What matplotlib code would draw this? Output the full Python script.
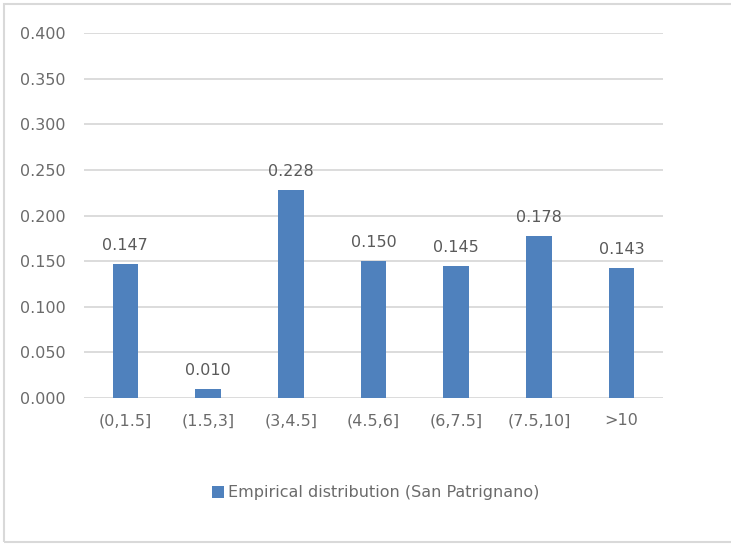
import matplotlib.pyplot as plt
from matplotlib.patches import Rectangle

# interval classes and empirical frequencies
categories = ['(0,1.5]', '(1.5,3]', '(3,4.5]', '(4.5,6]', '(6,7.5]', '(7.5,10]', '>10']
freq = [0.147, 0.010, 0.228, 0.150, 0.145, 0.178, 0.143]
yticks = [0.0, 0.05, 0.10, 0.15, 0.20, 0.25, 0.30, 0.35, 0.40]

plt.rcParams['font.family'] = ['DejaVu Sans']

fig = plt.figure(figsize=(7.31, 5.44), dpi=100)
ax = fig.add_axes([84 / 731, 1 - 398 / 544, (663 - 84) / 731, (398 - 33) / 544])

bar_col = '#4f81bd'
txt_col = '#6b6b6b'
x = range(len(categories))
bars = ax.bar(x, freq, width=0.31, color=bar_col, zorder=3,
              label='Empirical distribution (San Patrignano)')

for b, v in zip(bars, freq):
    ax.text(b.get_x() + b.get_width() / 2, v + 0.012, '%.3f' % v,
            ha='center', va='bottom', fontsize=11.5, color='#5a5a5a')

ax.set_xlim(-0.5, len(categories) - 0.5)
ax.set_ylim(0, 0.4)
ax.set_yticks(yticks)
ax.set_yticklabels(['%.3f' % t for t in yticks])
ax.set_xticks(list(x))
ax.set_xticklabels(categories)
ax.tick_params(axis='both', length=0, labelsize=11.5, colors=txt_col)
ax.tick_params(axis='y', pad=13)
ax.tick_params(axis='x', pad=11)
ax.grid(axis='y', color='#d9d9d9', linewidth=1.3, zorder=0)
for s in ax.spines.values():
    s.set_visible(False)

leg = fig.legend(loc='center', bbox_to_anchor=(376 / 731, 1 - 493 / 544),
                 frameon=False, fontsize=11.5, handlelength=0.7, handleheight=0.7,
                 handletextpad=0.3)
for t in leg.get_texts():
    t.set_color(txt_col)

# chart area border
fig.patches.append(Rectangle((4 / 731, 2 / 544), 1.0, 1 - 6 / 544,
                             transform=fig.transFigure, fill=False,
                             edgecolor='#d9d9d9', linewidth=1.5))

fig.savefig('out.png', dpi=100)
